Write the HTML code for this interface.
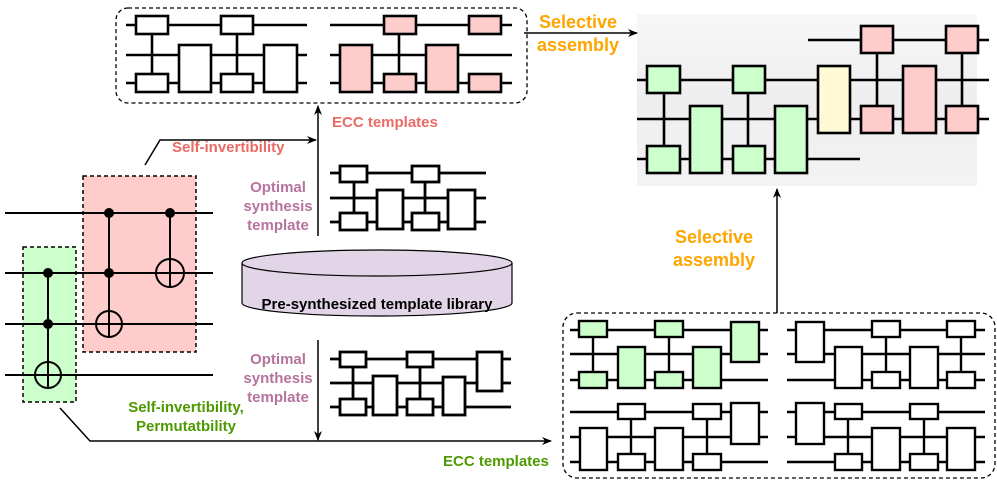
<!DOCTYPE html>
<html><head><meta charset="utf-8"><style>
html,body{margin:0;padding:0;background:#fff;}
svg{display:block;}
text{font-family:"Liberation Sans",Arial,sans-serif;font-weight:bold;}
</style></head><body>
<svg width="997" height="481" viewBox="0 0 997 481" xmlns="http://www.w3.org/2000/svg">
<defs>
<linearGradient id="g" x1="0" y1="0" x2="0" y2="1">
<stop offset="0" stop-color="#f7f7f7"/><stop offset="0.5" stop-color="#eeeeee"/><stop offset="1" stop-color="#f3f3f3"/>
</linearGradient>
<marker id="ah" markerWidth="10" markerHeight="10" refX="9" refY="5" orient="auto" markerUnits="userSpaceOnUse">
<path d="M0,1 L10,5 L0,9 L3,5 Z" fill="#000"/>
</marker>
</defs>

<rect x="116" y="8" width="411" height="95" rx="12" fill="#fff" stroke="#000" stroke-width="1.3" stroke-dasharray="4,3"/>
<g stroke="#000" stroke-width="2.6" fill="#fff">
<line x1="126" y1="25" x2="307" y2="25"/><line x1="126" y1="55" x2="307" y2="55"/><line x1="126" y1="83" x2="307" y2="83"/>
<line x1="152" y1="34" x2="152" y2="74"/><line x1="237" y1="34" x2="237" y2="74"/>
<rect x="136" y="16" width="32" height="18"/><rect x="136" y="74" width="32" height="18"/>
<rect x="179" y="45" width="32" height="47"/>
<rect x="221" y="16" width="32" height="18"/><rect x="221" y="74" width="32" height="18"/>
<rect x="264" y="45" width="33" height="47"/>
</g>
<g stroke="#000" stroke-width="2.6" fill="#ffcccc">
<line x1="330" y1="25" x2="512" y2="25"/><line x1="330" y1="55" x2="512" y2="55"/><line x1="330" y1="83" x2="512" y2="83"/>
<line x1="399" y1="34" x2="399" y2="74"/>
<rect x="384" y="16" width="32" height="18"/><rect x="384" y="74" width="32" height="18"/>
<rect x="340" y="45" width="32" height="47"/><rect x="426" y="45" width="32" height="47"/>
<rect x="469" y="16" width="32" height="18"/><rect x="469" y="74" width="32" height="18"/>
</g>

<rect x="637" y="14" width="340" height="172" fill="url(#g)"/>
<g stroke="#000" stroke-width="2.6">
<line x1="808" y1="40" x2="989" y2="40"/><line x1="637" y1="80" x2="989" y2="80"/>
<line x1="637" y1="119" x2="989" y2="119"/><line x1="637" y1="159" x2="860" y2="159"/>
<line x1="664" y1="92" x2="664" y2="146"/><line x1="748" y1="92" x2="748" y2="146"/>
<line x1="877" y1="53" x2="877" y2="106"/><line x1="962" y1="53" x2="962" y2="106"/>
</g>
<g stroke="#000" stroke-width="2.6" fill="#ccffcc">
<rect x="647" y="66" width="33" height="27"/><rect x="647" y="146" width="33" height="27"/>
<rect x="690" y="106" width="32" height="67"/>
<rect x="733" y="66" width="32" height="27"/><rect x="733" y="146" width="32" height="27"/>
<rect x="775" y="106" width="32" height="67"/>
</g>
<rect x="818" y="66" width="32" height="67" fill="#fff9d6" stroke="#000" stroke-width="2.6"/>
<g stroke="#000" stroke-width="2.6" fill="#ffcccc">
<rect x="861" y="26" width="32" height="27"/><rect x="861" y="106" width="32" height="27"/>
<rect x="903" y="66" width="33" height="67"/>
<rect x="946" y="26" width="32" height="27"/><rect x="946" y="106" width="32" height="27"/>
</g>

<rect x="563" y="313" width="432" height="165" rx="14" fill="#fff" stroke="#000" stroke-width="1.3" stroke-dasharray="4,3"/>
<g stroke="#000" stroke-width="2.4" fill="#fff">
<line x1="570" y1="330" x2="768" y2="330"/><line x1="570" y1="354" x2="768" y2="354"/><line x1="570" y1="380" x2="768" y2="380"/>
<line x1="593" y1="337" x2="593" y2="372"/><line x1="669" y1="337" x2="669" y2="372"/>
<line x1="787" y1="330" x2="985" y2="330"/><line x1="787" y1="354" x2="985" y2="354"/><line x1="787" y1="380" x2="985" y2="380"/>
<line x1="886" y1="337" x2="886" y2="372"/><line x1="961" y1="337" x2="961" y2="372"/>
<rect x="796" y="322" width="28" height="40"/>
<rect x="872" y="321" width="28" height="16"/><rect x="872" y="372" width="28" height="16"/>
<rect x="835" y="347" width="27" height="41"/><rect x="910" y="347" width="28" height="41"/>
<rect x="947" y="321" width="28" height="16"/><rect x="947" y="372" width="28" height="16"/>
<line x1="570" y1="412" x2="768" y2="412"/><line x1="570" y1="437" x2="768" y2="437"/><line x1="570" y1="462" x2="768" y2="462"/>
<line x1="631" y1="419" x2="631" y2="454"/><line x1="707" y1="419" x2="707" y2="454"/>
<rect x="618" y="404" width="27" height="15"/><rect x="618" y="454" width="27" height="16"/>
<rect x="580" y="428" width="27" height="42"/><rect x="655" y="428" width="28" height="42"/>
<rect x="693" y="404" width="28" height="15"/><rect x="693" y="454" width="28" height="16"/>
<rect x="731" y="403" width="28" height="41"/>
<line x1="787" y1="412" x2="985" y2="412"/><line x1="787" y1="437" x2="985" y2="437"/><line x1="787" y1="462" x2="985" y2="462"/>
<line x1="848" y1="419" x2="848" y2="454"/><line x1="924" y1="419" x2="924" y2="454"/>
<rect x="796" y="403" width="28" height="41"/>
<rect x="835" y="404" width="27" height="15"/><rect x="835" y="454" width="27" height="16"/>
<rect x="872" y="428" width="28" height="42"/>
<rect x="910" y="404" width="28" height="15"/><rect x="910" y="454" width="28" height="16"/>
<rect x="947" y="428" width="28" height="42"/>
</g>
<g stroke="#000" stroke-width="2.4" fill="#ccffcc">
<rect x="579" y="321" width="28" height="16"/><rect x="579" y="372" width="28" height="16"/>
<rect x="618" y="347" width="27" height="41"/>
<rect x="655" y="321" width="28" height="16"/><rect x="655" y="372" width="28" height="16"/>
<rect x="693" y="347" width="28" height="41"/>
<rect x="731" y="322" width="28" height="40"/>
</g>

<rect x="83" y="176" width="113" height="176" fill="#ffcccc" stroke="#000" stroke-width="1.5" stroke-dasharray="4,3"/>
<rect x="23" y="247" width="53" height="155" fill="#ccffcc" stroke="#000" stroke-width="1.5" stroke-dasharray="4,3"/>
<g stroke="#000" stroke-width="2" fill="none">
<line x1="5" y1="213" x2="213" y2="213"/><line x1="5" y1="273" x2="213" y2="273"/>
<line x1="5" y1="324" x2="213" y2="324"/><line x1="5" y1="375" x2="213" y2="375"/>
<line x1="48" y1="273" x2="48" y2="388"/>
<line x1="109" y1="213" x2="109" y2="337"/>
<line x1="170" y1="213" x2="170" y2="287"/>
<circle cx="48" cy="375" r="13"/><line x1="35" y1="375" x2="61" y2="375"/>
<circle cx="109" cy="324" r="13"/><line x1="96" y1="324" x2="122" y2="324"/>
<circle cx="170" cy="273" r="14"/><line x1="156" y1="273" x2="184" y2="273"/>
</g>
<g fill="#000">
<circle cx="48" cy="273" r="5"/><circle cx="48" cy="324" r="5"/>
<circle cx="109" cy="213" r="5"/><circle cx="109" cy="273" r="5"/><circle cx="170" cy="213" r="5"/>
</g>

<path d="M242,263 L242,303 A135,13 0 0 0 512,303 L512,263" fill="#e1d5e7" stroke="#000" stroke-width="1.2"/>
<ellipse cx="377" cy="263" rx="135" ry="13" fill="#e1d5e7" stroke="#000" stroke-width="1.2"/>
<text x="377" y="309" font-size="15" text-anchor="middle" fill="#000">Pre-synthesized template library</text>

<g stroke="#000" stroke-width="2.8" fill="#fff">
<line x1="330" y1="173" x2="486" y2="173"/><line x1="330" y1="198" x2="486" y2="198"/><line x1="330" y1="222" x2="486" y2="222"/>
<line x1="354" y1="182" x2="354" y2="213"/><line x1="425" y1="182" x2="425" y2="213"/>
<rect x="340" y="166" width="27" height="16"/><rect x="340" y="213" width="27" height="17"/>
<rect x="377" y="190" width="26" height="39"/>
<rect x="412" y="166" width="27" height="16"/><rect x="412" y="213" width="27" height="17"/>
<rect x="448" y="190" width="27" height="39"/>
<line x1="330" y1="359" x2="511" y2="359"/><line x1="330" y1="383" x2="511" y2="383"/><line x1="330" y1="407" x2="511" y2="407"/>
<line x1="353" y1="367" x2="353" y2="399"/><line x1="420" y1="367" x2="420" y2="399"/>
<rect x="340" y="352" width="26" height="15"/><rect x="340" y="399" width="26" height="16"/>
<rect x="373" y="376" width="24" height="39"/>
<rect x="407" y="352" width="26" height="15"/><rect x="407" y="399" width="26" height="16"/>
<rect x="443" y="377" width="22" height="38"/>
<rect x="477" y="352" width="25" height="39"/>
</g>

<g stroke="#000" stroke-width="1.5" fill="none">
<polyline points="145,165 160,140 316,140" marker-end="url(#ah)"/>
<line x1="318" y1="236" x2="318" y2="106" marker-end="url(#ah)"/>
<line x1="318" y1="340" x2="318" y2="440" marker-end="url(#ah)"/>
<polyline points="60,408 90,441 551,441" marker-end="url(#ah)"/>
<line x1="524" y1="33" x2="637" y2="33" marker-end="url(#ah)"/>
<line x1="777" y1="313" x2="777" y2="189" marker-end="url(#ah)"/>
</g>

<g font-size="18" fill="#ffa500" text-anchor="middle">
<text x="578" y="28">Selective</text><text x="578" y="51">assembly</text>
<text x="714" y="243">Selective</text><text x="714" y="266">assembly</text>
</g>
<g font-size="15" fill="#ea6b66">
<text x="172" y="152">Self-invertibility</text>
<text x="332" y="127">ECC templates</text>
</g>
<g font-size="15" fill="#b5739d" text-anchor="middle">
<text x="278" y="192">Optimal</text><text x="278" y="211">synthesis</text><text x="278" y="230">template</text>
<text x="278" y="364">Optimal</text><text x="278" y="383">synthesis</text><text x="278" y="402">template</text>
</g>
<g font-size="15" fill="#4d9900" text-anchor="middle">
<text x="186" y="412">Self-invertibility,</text><text x="186" y="431">Permutatbility</text>
</g>
<text x="443" y="466" font-size="15" fill="#4d9900">ECC templates</text>
</svg>
</body></html>
